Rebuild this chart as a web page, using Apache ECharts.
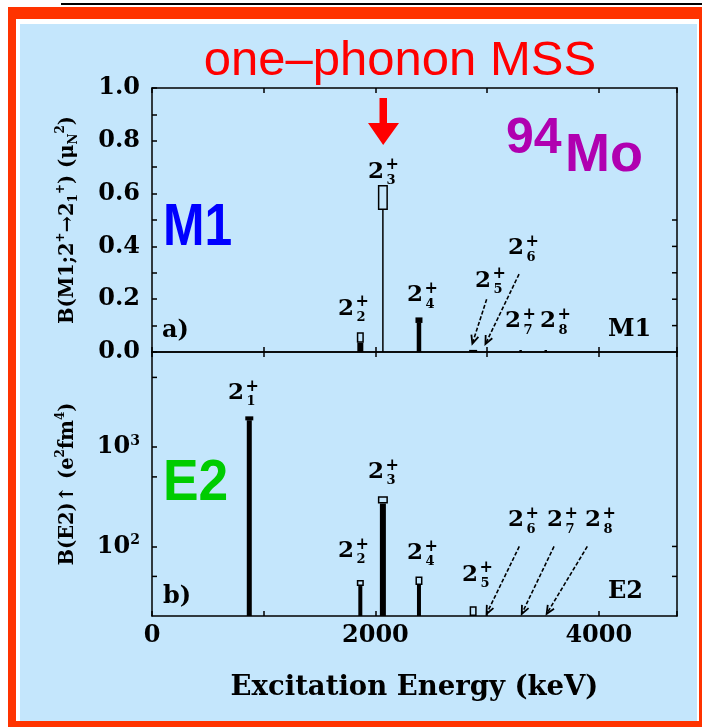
<!DOCTYPE html>
<html>
<head>
<meta charset="utf-8">
<script src="https://cdn.jsdelivr.net/npm/echarts@6/dist/echarts.min.js"></script>
<style>
html, body { margin: 0; padding: 0; background: #ffffff; }
#chart { width: 702px; height: 727px; }
</style>
</head>
<body>
<div id="chart"></div>
<script>
// ---- Data -------------------------------------------------------------
// Panel a): M1 strengths B(M1; 2+ -> 2+_1) in mu_N^2, shown as lower/upper bounds
const m1States = [2, 3, 4, 5, 7, 8];
const m1Energy = [1865, 2067, 2390, 2875, 3300, 3525];     // keV
const m1Lower  = [0.035, 0.538, 0.110, 0, 0, 0];
const m1Upper  = [0.075, 0.633, 0.131, 0.008, 0.004, 0.004];

// Panel b): E2 strengths B(E2)up in e^2 fm^4 (log scale)
const e2States = [1, 2, 3, 4, 5];
const e2Energy = [871, 1865, 2067, 2390, 2875];            // keV
const e2Lower  = [1850, 40, 270, 41, 20];
const e2Upper  = [2030, 46, 320, 50, 25];

// Axis ranges and tick values
const energyRange = [0, 4700];
const energyStep = 1000;
const energyLabels = [0, 2000, 4000];
const m1Range = [0, 1.0];
const m1Step = 0.2;
const e2Range = [20, 9000];
const e2Decades = [100, 1000];
const e2MinorTicks = [50, 500, 5000];
const m1RightTicks = [0.1, 0.2, 0.3, 0.4, 0.5];
const e2RightTicks = [50, 100];

// ---- Drawing styles for each mark (line width, error-box width, filled box) --
const m1MarkStyle = [
  { line: 6,   box: 7,  filled: false },
  { line: 1.5, box: 10, filled: false },
  { line: 4.5, box: 7,  filled: true },
  { line: 0,   box: 8,  filled: true },
  { line: 0,   box: 2.5, filled: true },
  { line: 0,   box: 2.5, filled: true }
];
const e2MarkStyle = [
  { line: 5, box: 8,  filled: true },
  { line: 4, box: 7,  filled: false },
  { line: 6, box: 10, filled: false },
  { line: 4, box: 7,  filled: false },
  { line: 0, box: 7,  filled: false }
];

// ---- Annotations: level labels (bottom-centre, in axis units) and arrows --
const m1LabelAt = [
  [2, 1817, 0.102], [3, 2086, 0.621], [4, 2435, 0.152],
  [5, 3044, 0.208], [6, 3339, 0.330], [7, 3312, 0.053], [8, 3626, 0.053]
];
const m1Arrows = [
  [2996, 0.200, 2868, 0.032],
  [3286, 0.295, 2985, 0.030]
];
const e2LabelAt = [
  [1, 833, 2384], [2, 1817, 61.4], [3, 2086, 383], [4, 2435, 58.7],
  [5, 2928, 35.5], [6, 3339, 124.8], [7, 3688, 124.8], [8, 4029, 124.8]
];
const e2Arrows = [
  [3288, 100, 2995, 21],
  [3599, 100, 3310, 21],
  [3897, 100, 3533, 21]
];

// ---- Helpers ----------------------------------------------------------
const SERIF = '"DejaVu Serif", serif';
const SANS = '"Liberation Sans", Arial, sans-serif';

function markRenderer(styles, baseValue) {
  return function (params, api) {
    const st = styles[params.dataIndex];
    const e = api.value(0);
    const pBase = api.coord([e, baseValue]);
    const pLo = api.coord([e, api.value(1)]);
    const pHi = api.coord([e, api.value(2)]);
    const x = pBase[0];
    const children = [];
    if (st.line > 0 && pBase[1] - pLo[1] > 0.5) {
      children.push({
        type: 'rect',
        shape: { x: x - st.line / 2, y: pLo[1], width: st.line, height: pBase[1] - pLo[1] },
        style: { fill: '#000' }
      });
    }
    const h = pLo[1] - pHi[1];
    if (st.filled) {
      children.push({
        type: 'rect',
        shape: { x: x - st.box / 2, y: pLo[1] - Math.max(h, 2), width: st.box, height: Math.max(h, 2) },
        style: { fill: '#000' }
      });
    } else {
      children.push({
        type: 'rect',
        shape: { x: x - st.box / 2 + 0.75, y: pHi[1] + 0.75, width: st.box - 1.5, height: Math.max(h - 1.5, 1) },
        style: { fill: 'none', stroke: '#000', lineWidth: 1.5 }
      });
    }
    return { type: 'group', children: children };
  };
}

function levelLabel(params, api) {
  const n = api.value(0);
  const p = api.coord([api.value(1), api.value(2)]);
  const cx = p[0], by = p[1];
  return {
    type: 'group',
    children: [
      { type: 'text', style: { text: '2', x: cx - 1, y: by - 16.5, align: 'right', verticalAlign: 'middle',
          font: 'bold 23px ' + SERIF, fill: '#000' } },
      { type: 'text', style: { text: '+', x: cx + 0.5, y: by - 23, align: 'left', verticalAlign: 'middle',
          font: 'bold 16px ' + SERIF, fill: '#000' } },
      { type: 'text', style: { text: String(n), x: cx + 1.5, y: by - 7.5, align: 'left', verticalAlign: 'middle',
          font: 'bold 13px ' + SERIF, fill: '#000' } }
    ]
  };
}

function arrow(params, api) {
  const a = api.coord([api.value(0), api.value(1)]);
  const b = api.coord([api.value(2), api.value(3)]);
  const ang = Math.atan2(b[1] - a[1], b[0] - a[0]);
  const L = 9, sp = 0.42;
  const h1 = [b[0] - L * Math.cos(ang - sp), b[1] - L * Math.sin(ang - sp)];
  const h2 = [b[0] - L * Math.cos(ang + sp), b[1] - L * Math.sin(ang + sp)];
  return {
    type: 'group',
    children: [
      { type: 'line', shape: { x1: a[0], y1: a[1], x2: b[0], y2: b[1] },
        style: { stroke: '#000', lineWidth: 1.6, lineDash: [4, 2] } },
      { type: 'polyline', shape: { points: [h1, b, h2] },
        style: { stroke: '#000', lineWidth: 1.8, fill: null } }
    ]
  };
}

function sideTick(xValue, dir) {
  return function (params, api) {
    const p = api.coord([xValue, api.value(1)]);
    return { type: 'line', shape: { x1: p[0], y1: p[1], x2: p[0] + dir * 5, y2: p[1] },
      style: { stroke: '#000', lineWidth: 1.5 } };
  };
}

// ---- Chart ------------------------------------------------------------
const chart = echarts.init(document.getElementById('chart'), null, { renderer: 'canvas' });

const tickFont = { fontFamily: SERIF, fontWeight: 'bold', fontSize: 24, color: '#000' };
const axisLine = { show: true, onZero: false, lineStyle: { color: '#000', width: 1.5 } };
const tickIn = { show: true, inside: true, length: 5, lineStyle: { color: '#000', width: 1.5 } };

function energyAxis(gridIndex, position, showLabels) {
  return {
    type: 'value', gridIndex: gridIndex, position: position,
    min: energyRange[0], max: energyRange[1], interval: energyStep,
    axisLine: axisLine, axisTick: tickIn, splitLine: { show: false },
    axisLabel: showLabels ? Object.assign({
      margin: 8,
      formatter: function (v) { return energyLabels.indexOf(v) >= 0 ? String(v) : ''; }
    }, tickFont) : { show: false }
  };
}

const xAxisB = energyAxis(1, 'bottom', true);
xAxisB.name = 'Excitation Energy (keV)';
xAxisB.nameLocation = 'middle';
xAxisB.nameGap = 58;
xAxisB.nameMoveOverlap = false;
xAxisB.nameTextStyle = { fontFamily: SERIF, fontWeight: 'bold', fontSize: 27.5, color: '#000' };

const titleRich = {
  t:  { fontFamily: SERIF, fontWeight: 'bold', fontSize: 19.5, lineHeight: 25, color: '#000' },
  sp: { fontFamily: SERIF, fontWeight: 'bold', fontSize: 12, lineHeight: 12, verticalAlign: 'top', color: '#000' },
  sb: { fontFamily: SERIF, fontWeight: 'bold', fontSize: 12, lineHeight: 12, verticalAlign: 'bottom', color: '#000' }
};

const option = {
  animation: false,
  backgroundColor: 'transparent',
  grid: [
    { left: 152, right: 25, top: 88, height: 264, outerBoundsMode: 'none', show: false },
    { left: 152, right: 25, top: 352, height: 264, outerBoundsMode: 'none', show: false }
  ],
  xAxis: [
    energyAxis(0, 'bottom', false),
    energyAxis(0, 'top', false),
    xAxisB,
    energyAxis(1, 'top', false)
  ],
  yAxis: [
    {
      type: 'value', gridIndex: 0, position: 'left',
      min: m1Range[0], max: m1Range[1], interval: m1Step,
      axisLine: axisLine, axisTick: tickIn,
      minorTick: { show: true, splitNumber: 2, length: 5, lineStyle: { color: '#000', width: 1.5 } },
      splitLine: { show: false },
      axisLabel: Object.assign({ margin: 12, formatter: function (v) { return v.toFixed(1); } }, tickFont),
      name: '{t|B(M1;2}{sp|+}{t|→2}{sb|1}{sp|+}{t|) (μ}{sb|N}{sp|2}{t|)}',
      nameLocation: 'middle', nameRotate: 90, nameGap: 72, nameMoveOverlap: false,
      nameTextStyle: { rich: titleRich }
    },
    {
      type: 'value', gridIndex: 0, position: 'right',
      min: m1Range[0], max: m1Range[1], interval: m1Step,
      axisLine: axisLine, axisTick: { show: false }, axisLabel: { show: false }, splitLine: { show: false }
    },
    {
      type: 'log', logBase: 10, gridIndex: 1, position: 'left',
      min: e2Range[0], max: e2Range[1],
      axisLine: axisLine, axisTick: tickIn, splitLine: { show: false },
      axisLabel: {
        margin: 12,
        showMinLabel: false, showMaxLabel: false,
        formatter: function (v) {
          for (let i = 0; i < e2Decades.length; i++) {
            if (Math.abs(v - e2Decades[i]) / e2Decades[i] < 1e-6) {
              return '{b|10}{s|' + Math.round(Math.log10(e2Decades[i])) + '}';
            }
          }
          return '';
        },
        rich: {
          b: { fontFamily: SERIF, fontWeight: 'bold', fontSize: 24, lineHeight: 26, color: '#000' },
          s: { fontFamily: SERIF, fontWeight: 'bold', fontSize: 14, lineHeight: 14, verticalAlign: 'top', color: '#000' }
        }
      },
      name: '{t|B(E2)↑ (e}{sp|2}{t|fm}{sp|4}{t|)}',
      nameLocation: 'middle', nameRotate: 90, nameGap: 72, nameMoveOverlap: false,
      nameTextStyle: { rich: titleRich }
    },
    {
      type: 'log', logBase: 10, gridIndex: 1, position: 'right',
      min: e2Range[0], max: e2Range[1],
      axisLine: axisLine, axisTick: { show: false }, axisLabel: { show: false }, splitLine: { show: false }
    }
  ],
  series: [
    // extra tick marks
    { type: 'custom', silent: true, xAxisIndex: 0, yAxisIndex: 0, clip: false,
      data: m1RightTicks.map(function (v) { return [energyRange[1], v]; }),
      renderItem: sideTick(energyRange[1], -1) },
    { type: 'custom', silent: true, xAxisIndex: 2, yAxisIndex: 2, clip: false,
      data: e2MinorTicks.map(function (v) { return [energyRange[0], v]; }),
      renderItem: sideTick(energyRange[0], 1) },
    { type: 'custom', silent: true, xAxisIndex: 2, yAxisIndex: 2, clip: false,
      data: e2RightTicks.map(function (v) { return [energyRange[1], v]; }),
      renderItem: sideTick(energyRange[1], -1) },
    // M1 strengths
    { type: 'custom', silent: true, xAxisIndex: 0, yAxisIndex: 0, clip: false,
      encode: { x: 0, y: [1, 2] },
      data: m1Energy.map(function (e, i) { return [e, m1Lower[i], m1Upper[i]]; }),
      renderItem: markRenderer(m1MarkStyle, m1Range[0]) },
    // E2 strengths
    { type: 'custom', silent: true, xAxisIndex: 2, yAxisIndex: 2, clip: false,
      encode: { x: 0, y: [1, 2] },
      data: e2Energy.map(function (e, i) { return [e, e2Lower[i], e2Upper[i]]; }),
      renderItem: markRenderer(e2MarkStyle, e2Range[0]) },
    // level labels
    { type: 'custom', silent: true, xAxisIndex: 0, yAxisIndex: 0, clip: false,
      encode: { x: 1, y: 2 }, data: m1LabelAt, renderItem: levelLabel },
    { type: 'custom', silent: true, xAxisIndex: 2, yAxisIndex: 2, clip: false,
      encode: { x: 1, y: 2 }, data: e2LabelAt, renderItem: levelLabel },
    // pointer arrows
    { type: 'custom', silent: true, xAxisIndex: 0, yAxisIndex: 0, clip: false,
      encode: { x: [0, 2], y: [1, 3] }, data: m1Arrows, renderItem: arrow },
    { type: 'custom', silent: true, xAxisIndex: 2, yAxisIndex: 2, clip: false,
      encode: { x: [0, 2], y: [1, 3] }, data: e2Arrows, renderItem: arrow }
  ],
  graphic: [
    // page frame
    { type: 'rect', z: -30, silent: true, shape: { x: 61, y: 3, width: 641, height: 2 }, style: { fill: '#000' } },
    { type: 'rect', z: -30, silent: true, shape: { x: 8, y: 7, width: 694, height: 720 }, style: { fill: '#ff3300' } },
    { type: 'rect', z: -29, silent: true, shape: { x: 16, y: 19, width: 683, height: 702 }, style: { fill: '#ffffff' } },
    { type: 'rect', z: -28, silent: true, shape: { x: 20, y: 24, width: 677, height: 697 }, style: { fill: '#c4e6fc' } },
    // headline and pointer
    { type: 'text', z: 20, silent: true,
      style: { text: 'one–phonon MSS', x: 400, y: 61, align: 'center', verticalAlign: 'middle',
        font: '49px ' + SANS, fill: '#ff0000' } },
    { type: 'polygon', z: 20, silent: true,
      shape: { points: [[379.5, 98], [387, 98], [387, 123], [399, 123], [383.2, 145], [368, 123], [379.5, 123]] },
      style: { fill: '#ff0000' } },
    // nucleus
    { type: 'text', z: 20, silent: true,
      style: { text: '94', x: 506, y: 139.5, align: 'left', verticalAlign: 'middle', font: 'bold 50px ' + SANS, fill: '#b000b0' } },
    { type: 'text', z: 20, silent: true,
      style: { text: 'Mo', x: 565, y: 156.5, align: 'left', verticalAlign: 'middle', font: 'bold 54px ' + SANS, fill: '#b000b0' } },
    // multipolarity tags
    { type: 'text', z: 20, silent: true, x: 163, y: 228.5, scaleX: 0.83,
      style: { text: 'M1', x: 0, y: 0, align: 'left', verticalAlign: 'middle', font: 'bold 60px ' + SANS, fill: '#0000ff' } },
    { type: 'text', z: 20, silent: true, x: 163, y: 483.5, scaleX: 0.92,
      style: { text: 'E2', x: 0, y: 0, align: 'left', verticalAlign: 'middle', font: 'bold 58px ' + SANS, fill: '#00cc00' } },
    { type: 'text', z: 20, silent: true,
      style: { text: 'a)', x: 162, y: 331, align: 'left', verticalAlign: 'middle', font: 'bold 24px ' + SERIF, fill: '#000' } },
    { type: 'text', z: 20, silent: true,
      style: { text: 'b)', x: 163, y: 597, align: 'left', verticalAlign: 'middle', font: 'bold 24px ' + SERIF, fill: '#000' } },
    { type: 'text', z: 20, silent: true,
      style: { text: 'M1', x: 608, y: 330, align: 'left', verticalAlign: 'middle', font: 'bold 24px ' + SERIF, fill: '#000' } },
    { type: 'text', z: 20, silent: true,
      style: { text: 'E2', x: 608, y: 592, align: 'left', verticalAlign: 'middle', font: 'bold 24px ' + SERIF, fill: '#000' } }
  ]
};

chart.setOption(option);
</script>
</body>
</html>
